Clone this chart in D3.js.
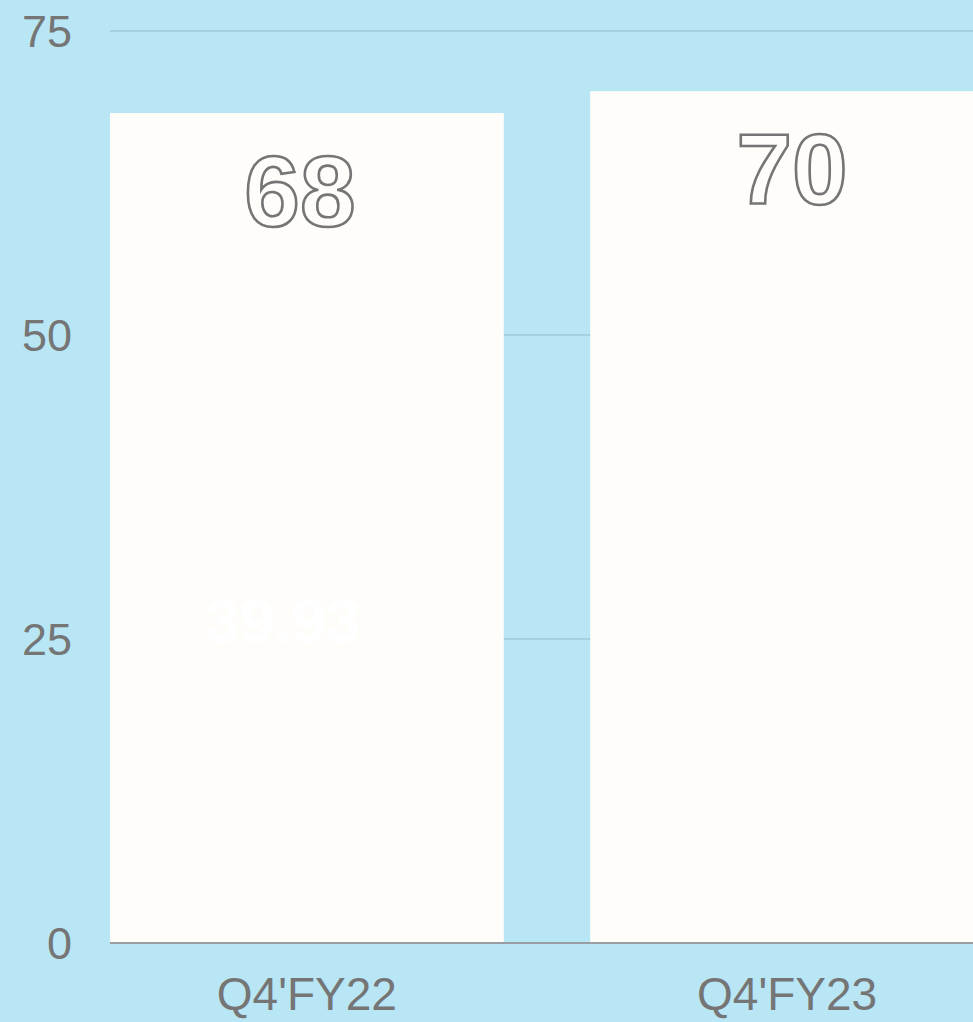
<!DOCTYPE html>
<html><head><meta charset="utf-8">
<script src="https://cdn.jsdelivr.net/npm/d3@7"></script>
<style>html,body{margin:0;padding:0;background:#b8e6f5;overflow:hidden}</style>
</head><body><svg id="c" width="973" height="1022"></svg>
<script>
const categories = ["Q4'FY22", "Q4'FY23"];
const values = [68.25, 70.05];
const valueLabels = ["68", "70"];
const hiddenLabel = {category: "Q4'FY22", text: "39.93", at: 26.5};
const yTicks = [0, 25, 50, 75];

const svg = d3.select("#c");
const W = 973, H = 1022;
svg.append("rect").attr("width", W).attr("height", H).attr("fill", "#b8e6f5");

const x = d3.scaleBand().domain(categories).range([110, 984]).paddingInner(0.18).paddingOuter(0);
const y = d3.scaleLinear().domain([0, 75]).range([943, 31]);
const labelShift = [-7, 5];

// gridlines
svg.append("g").selectAll("line").data(yTicks.filter(d => d > 0)).join("line")
  .attr("x1", 110).attr("x2", W).attr("y1", d => y(d)).attr("y2", d => y(d))
  .attr("stroke", "#9fc9d7").attr("stroke-width", 1.5);

// y tick labels
svg.append("g").selectAll("text").data(yTicks).join("text")
  .attr("x", 72).attr("y", d => y(d)).attr("dy", "0.35em")
  .attr("text-anchor", "end").attr("font-family", "Liberation Sans, Arial, sans-serif")
  .attr("font-size", 45).attr("fill", "#757575").text(d => d);

// bars
svg.append("g").selectAll("rect").data(categories).join("rect")
  .attr("x", d => x(d)).attr("width", x.bandwidth())
  .attr("y", (d, i) => y(values[i])).attr("height", (d, i) => y(0) - y(values[i]))
  .attr("fill", "#fffdfa");

// baseline
svg.append("line").attr("x1", 110).attr("x2", W).attr("y1", y(0)).attr("y2", y(0))
  .attr("stroke", "#999ea2").attr("stroke-width", 2);

// value labels
svg.append("g").selectAll("text").data(categories).join("text")
  .attr("x", (d, i) => x(d) + x.bandwidth() / 2 + labelShift[i])
  .attr("y", (d, i) => y(values[i]) + 113)
  .attr("text-anchor", "middle").attr("font-family", "Liberation Sans, Arial, sans-serif")
  .attr("font-weight", "bold").attr("font-size", 100)
  .attr("fill", "#fffdfa").attr("stroke", "#757575").attr("stroke-width", 2.6)
  .text((d, i) => valueLabels[i]);

// faint inner label
svg.append("text")
  .attr("x", x(hiddenLabel.category) + x.bandwidth() / 2 - 24)
  .attr("y", y(hiddenLabel.at)).attr("dy", "0.35em")
  .attr("text-anchor", "middle").attr("font-family", "Liberation Sans, Arial, sans-serif")
  .attr("font-weight", "bold").attr("font-size", 62).attr("fill", "#ffffff")
  .text(hiddenLabel.text);

// x labels
svg.append("g").selectAll("text").data(categories).join("text")
  .attr("x", d => x(d) + x.bandwidth() / 2).attr("y", 1010)
  .attr("text-anchor", "middle").attr("font-family", "Liberation Sans, Arial, sans-serif")
  .attr("font-size", 46).attr("fill", "#757575").text(d => d);
</script></body></html>
